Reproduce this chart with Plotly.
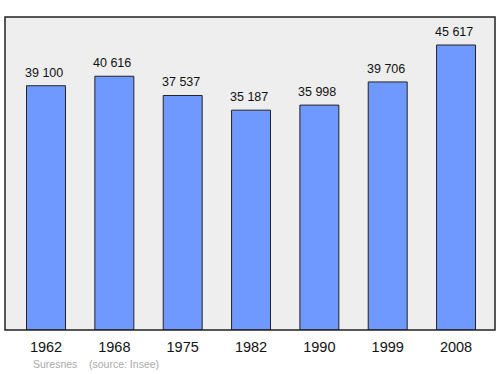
import plotly.graph_objects as go

years = ["1962", "1968", "1975", "1982", "1990", "1999", "2008"]
population = [39100, 40616, 37537, 35187, 35998, 39706, 45617]
labels = ["39 100", "40 616", "37 537", "35 187", "35 998", "39 706", "45 617"]

fig = go.Figure()
fig.add_trace(go.Bar(
    x=years, y=population, width=0.57,
    marker=dict(color="#7099ff", line=dict(color="#222222", width=1)),
    hoverinfo="skip",
))
for i, (v, t) in enumerate(zip(population, labels)):
    fig.add_annotation(x=i, y=v, xref="x", yref="y", text=t, showarrow=False,
                       yanchor="bottom", yshift=4, xshift=-2,
                       font=dict(size=12.5, color="#111111", family="Liberation Sans, Arial"))

fig.add_annotation(xref="paper", yref="paper", x=26/490, y=-0.108, xanchor="left", yanchor="middle",
                   text="Suresnes&nbsp;&nbsp;&nbsp;&nbsp;(source: Insee)", showarrow=False,
                   font=dict(size=10.5, color="#aaaaaa", family="Liberation Sans, Arial"))

fig.add_shape(type="rect", xref="paper", yref="paper", x0=0, y0=0, x1=1, y1=1,
              line=dict(color="#222222", width=1.5), layer="above")

fig.update_layout(
    width=500, height=374,
    margin=dict(l=5, r=5, t=17, b=44),
    paper_bgcolor="white", plot_bgcolor="#eeeeee",
    showlegend=False,
    xaxis=dict(type="category", range=[-0.6, 6.57], showgrid=False, zeroline=False,
               ticks="", ticklabelstandoff=6,
               tickfont=dict(size=14.5, color="#111111", family="Liberation Sans, Arial"),
               fixedrange=True),
    yaxis=dict(range=[0, 50100], showgrid=False, zeroline=False, showticklabels=False,
               ticks="", fixedrange=True),
)

fig.write_html("out.html")
